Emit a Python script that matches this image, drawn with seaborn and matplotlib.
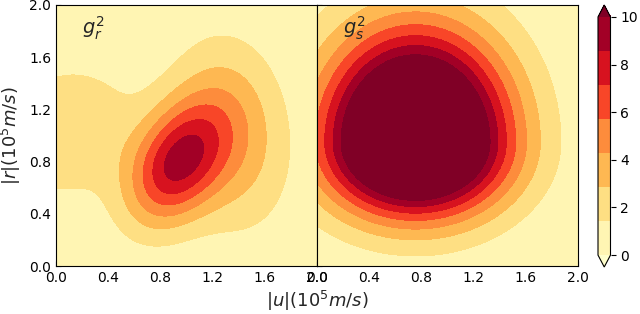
import numpy as np
import matplotlib
matplotlib.use('Agg')
import matplotlib.pyplot as plt
import seaborn as sns

sns.set_style('white')
plt.rcParams['font.family'] = ['DejaVu Sans']
plt.rcParams['mathtext.fontset'] = 'dejavusans'

# contour levels and ticks
levels = np.linspace(0, 10, 8)
axis_ticks = [0.0, 0.4, 0.8, 1.2, 1.6, 2.0]
cbar_ticks = [0, 2, 4, 6, 8, 10]
panel_labels = [r'$g_r^2$', r'$g_s^2$']

# g_r^2 field: Gaussian components
gr_amp = [8.051, 3.723, 2.796]
gr_u0 = [0.919, 1.348, 0.079]
gr_r0 = [0.776, 1.020, 1.031]
gr_su = [0.259, 0.318, 0.379]
gr_sr = [0.327, 0.520, 0.373]
gr_rho = [0.352, -0.139, 0.110]

# g_s^2 field: peak height, centre, |u| width, |r| widths below / above the centre
gs_amp = 20.0
gs_u0 = 0.755
gs_r0 = 0.95
gs_su = 0.485
gs_sr = [0.38, 0.568]

u = np.linspace(0, 2, 301)
r = np.linspace(0, 2, 301)
U, R = np.meshgrid(u, r)


def field_r(amp, u0, r0, su, sr, rho):
    z = np.zeros_like(U)
    for a, x0, y0, sx, sy, p in zip(amp, u0, r0, su, sr, rho):
        du = (U - x0) / sx
        dr = (R - y0) / sy
        z += a * np.exp(-(du * du - 2 * p * du * dr + dr * dr) / (2 * (1 - p * p)))
    return z


def field_s(amp, u0, r0, su, sr):
    du = (U - u0) / su
    dr = (R - r0) / np.where(R < r0, sr[0], sr[1])
    return amp * np.exp(-0.5 * (du * du + dr * dr))


Z1 = field_r(gr_amp, gr_u0, gr_r0, gr_su, gr_sr, gr_rho)
Z2 = field_s(gs_amp, gs_u0, gs_r0, gs_su, gs_sr)

cmap = sns.color_palette("YlOrRd", as_cmap=True)

fig = plt.figure(figsize=(6.4, 3.14), dpi=100)
ax1 = fig.add_axes([56 / 640, 48 / 314, 261 / 640, 261 / 314])
ax2 = fig.add_axes([317 / 640, 48 / 314, 261 / 640, 261 / 314])
cax = fig.add_axes([598 / 640, 47 / 314, 12.5 / 640, 262 / 314])

cs = None
for ax, Z, lab in [(ax1, Z1, panel_labels[0]), (ax2, Z2, panel_labels[1])]:
    cs = ax.contourf(U, R, Z, levels=levels, cmap=cmap, extend='both')
    ax.set_xlim(0, 2)
    ax.set_ylim(0, 2)
    ax.set_xticks(axis_ticks)
    ax.set_yticks(axis_ticks)
    ax.tick_params(direction='in', length=3.5, width=0.8, colors='black',
                   labelsize=10, bottom=True, left=True, top=False, right=False)
    for s in ax.spines.values():
        s.set_color('black')
        s.set_linewidth(0.8)
    ax.text(0.1, 0.965, lab, transform=ax.transAxes, ha='left', va='top', fontsize=14)

ax2.tick_params(labelleft=False)

cb = fig.colorbar(cs, cax=cax, ticks=cbar_ticks)
cb.ax.tick_params(direction='out', length=3.5, width=0.8, colors='black', labelsize=10)
cb.outline.set_edgecolor('black')
cb.outline.set_linewidth(0.8)

fig.text(317 / 640, 1 - 301 / 314, r'$|u|(10^5m/s)$', ha='center', va='center', fontsize=13)
fig.text(11 / 640, 1 - 136 / 314, r'$|r|(10^5m/s)$', ha='center', va='center',
         rotation=90, fontsize=13)

fig.savefig('out.png', dpi=100)
